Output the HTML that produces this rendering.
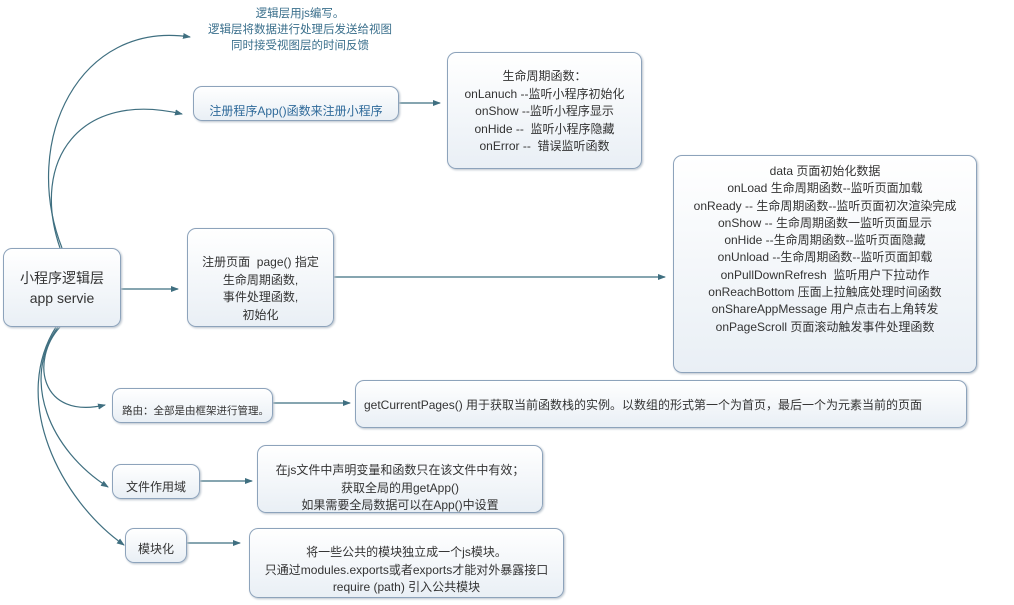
<!DOCTYPE html>
<html><head><meta charset="utf-8"><style>
body{margin:0;width:1014px;height:605px;background:#fff;position:relative;overflow:hidden;font-family:"Liberation Sans","Noto Sans CJK SC",sans-serif;font-size:12px;color:#333}
.b{position:absolute;box-sizing:border-box;border:1px solid #8da3bb;border-radius:9px;background:linear-gradient(#fff,#e9eff5);box-shadow:1px 1px 2px #b8c2cc;text-align:center;line-height:17.5px;white-space:nowrap}
.t{position:absolute;text-align:center;line-height:16.5px;white-space:nowrap}
</style></head><body>
<svg width="1014" height="605" style="position:absolute;left:0;top:0">
<defs><marker id="a" markerWidth="8" markerHeight="8" refX="7" refY="4" orient="auto" markerUnits="userSpaceOnUse"><path d="M0,1 L8,4 L0,7z" fill="#3f6f80"/></marker></defs>
<g fill="none" stroke="#3f6f80" stroke-width="1.2" marker-end="url(#a)">
<path d="M62,248 C20,140 80,20 190,37"/>
<path d="M60,248 C30,160 80,90 182,114"/>
<path d="M120,289 L178,289"/>
<path d="M398,103 L440,103"/>
<path d="M333,277 L665,277"/>
<path d="M60,327 C30,360 40,420 105,405"/>
<path d="M58,327 C20,380 50,450 108,487"/>
<path d="M56,327 C10,400 60,500 124,545"/>
<path d="M272,403 L350,403"/>
<path d="M199,481 L252,481"/>
<path d="M186,543 L240,543"/>
</g></svg>
<div class="t" style="left:180px;top:6px;width:240px;color:#3a6f8c;font-size:11.5px;line-height:16px">逻辑层用js编写。<br>逻辑层将数据进行处理后发送给视图<br>同时接受视图层的时间反馈</div>
<div class="b" style="left:193px;top:86px;width:206px;height:35px;color:#2f6a9a;padding-top:16px;line-height:16px">注册程序App()函数来注册小程序</div>
<div class="b" style="left:447px;top:52px;width:195px;height:117px;padding-top:15px">生命周期函数：<br>onLanuch --监听小程序初始化<br>onShow --监听小程序显示<br>onHide --&nbsp; 监听小程序隐藏<br>onError --&nbsp; 错误监听函数</div>
<div class="b" style="left:3px;top:248px;width:118px;height:79px;font-size:14px;line-height:20px;padding-top:19px">小程序逻辑层<br>app servie</div>
<div class="b" style="left:187px;top:228px;width:147px;height:99px;padding-top:25px">注册页面&nbsp; page() 指定<br>生命周期函数,<br>事件处理函数,<br>初始化</div>
<div class="b" style="left:673px;top:155px;width:304px;height:218px;padding-top:7px;line-height:17.3px">data 页面初始化数据<br>onLoad 生命周期函数--监听页面加载<br>onReady -- 生命周期函数--监听页面初次渲染完成<br>onShow -- 生命周期函数一监听页面显示<br>onHide --生命周期函数--监听页面隐藏<br>onUnload --生命周期函数--监听页面卸载<br>onPullDownRefresh&nbsp; 监听用户下拉动作<br>onReachBottom 压面上拉触底处理时间函数<br>onShareAppMessage 用户点击右上角转发<br>onPageScroll 页面滚动触发事件处理函数</div>
<div class="b" style="left:112px;top:388px;width:161px;height:35px;text-align:left;padding:14px 0 0 9px;font-size:10.5px;overflow:hidden">路由：全部是由框架进行管理。</div>
<div class="b" style="left:355px;top:380px;width:612px;height:48px;text-align:left;padding:16px 0 0 8px">getCurrentPages() 用于获取当前函数栈的实例。以数组的形式第一个为首页，最后一个为元素当前的页面</div>
<div class="b" style="left:112px;top:464px;width:88px;height:35px;padding-top:14px">文件作用域</div>
<div class="b" style="left:257px;top:445px;width:286px;height:68px;padding-top:16px">在js文件中声明变量和函数只在该文件中有效；<br>获取全局的用getApp()<br>如果需要全局数据可以在App()中设置</div>
<div class="b" style="left:125px;top:528px;width:62px;height:35px;padding-top:12px">模块化</div>
<div class="b" style="left:249px;top:528px;width:315px;height:70px;padding-top:15px">将一些公共的模块独立成一个js模块。<br>只通过modules.exports或者exports才能对外暴露接口<br>require (path) 引入公共模块</div>
</body></html>
